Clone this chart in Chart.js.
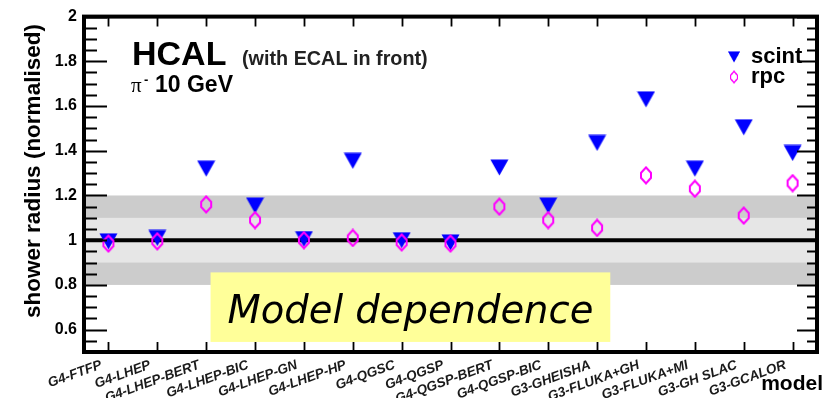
<!DOCTYPE html>
<html>
<head>
<meta charset="utf-8">
<script src="https://cdn.jsdelivr.net/npm/chart.js@4.4.0/dist/chart.umd.min.js"></script>
<style>
    html, body { margin: 0; padding: 0; background: #fff; }
</style>
</head>
<body>
<canvas id="radiusChart" width="827" height="398"></canvas>
<script>
// Hadronic shower models
var models = ['G4-FTFP', 'G4-LHEP', 'G4-LHEP-BERT', 'G4-LHEP-BIC', 'G4-LHEP-GN', 'G4-LHEP-HP',
    'G4-QGSC', 'G4-QGSP', 'G4-QGSP-BERT', 'G4-QGSP-BIC', 'G3-GHEISHA', 'G3-FLUKA+GH',
    'G3-FLUKA+MI', 'G3-GH SLAC', 'G3-GCALOR'];

// Shower radius, normalised
var scintRadius = [0.995, 1.01, 1.32, 1.155, 1.005, 1.355, 1.0, 0.99, 1.325, 1.155, 1.435, 1.63, 1.32, 1.505, 1.39];
var rpcRadius = [0.985, 0.995, 1.16, 1.09, 1.0, 1.01, 0.99, 0.985, 1.15, 1.09, 1.055, 1.29, 1.23, 1.11, 1.255];

// Axis
var yTicks = [0.6, 0.8, 1, 1.2, 1.4, 1.6, 1.8, 2];
var yMinorTicks = [0.55, 0.65, 0.7, 0.75, 0.85, 0.9, 0.95, 1.05, 1.1, 1.15, 1.25, 1.3, 1.35,
    1.45, 1.5, 1.55, 1.65, 1.7, 1.75, 1.85, 1.9, 1.95];

// Agreement bands around unity
var innerBand = [0.9, 1.1];
var outerBand = [0.8, 1.2];

var sansFont = '"Liberation Sans", Arial, sans-serif';

// Markers
function makeMarker(w, h, draw) {
    var c = document.createElement('canvas');
    c.width = w;
    c.height = h;
    draw(c.getContext('2d'), w, h);
    return c;
}
var triangleMarker = makeMarker(19, 17, function (g, w, h) {
    g.fillStyle = '#0000ff';
    g.beginPath();
    g.moveTo(0.5, 0.5);
    g.lineTo(w - 0.5, 0.5);
    g.lineTo(w / 2, h - 0.5);
    g.closePath();
    g.fill();
});
var diamondMarker = makeMarker(14, 19, function (g, w, h) {
    g.strokeStyle = '#ff00ff';
    g.lineWidth = 2;
    g.beginPath();
    g.moveTo(w / 2, 1.5);
    g.lineTo(w - 2, 7);
    g.lineTo(w - 2, h - 7);
    g.lineTo(w / 2, h - 1.5);
    g.lineTo(2, h - 7);
    g.lineTo(2, 7);
    g.closePath();
    g.stroke();
});

// Bands, unity line, caption box, frame and texts
var decorPlugin = {
    id: 'decor',
    beforeDatasetsDraw: function (chart) {
        var ctx = chart.ctx, area = chart.chartArea;
        var xs = chart.scales.x, ys = chart.scales.y;
        ctx.save();

        var top = ys.getPixelForValue(outerBand[1]), bottom = ys.getPixelForValue(outerBand[0]);
        ctx.fillStyle = '#cccccc';
        ctx.fillRect(area.left, top, area.width, bottom - top);
        top = ys.getPixelForValue(innerBand[1]);
        bottom = ys.getPixelForValue(innerBand[0]);
        ctx.fillStyle = '#e6e6e6';
        ctx.fillRect(area.left, top, area.width, bottom - top);

        var one = ys.getPixelForValue(1);
        ctx.strokeStyle = '#000';
        ctx.lineWidth = 4;
        ctx.beginPath();
        ctx.moveTo(area.left, one);
        ctx.lineTo(area.right, one);
        ctx.stroke();

        // caption box
        var bx0 = xs.getPixelForValue(2.09), bx1 = xs.getPixelForValue(10.27);
        var by0 = ys.getPixelForValue(0.856), by1 = ys.getPixelForValue(0.545);
        ctx.fillStyle = '#ffff99';
        ctx.fillRect(bx0, by0, bx1 - bx0, by1 - by0);

        var caption = 'Model dependence';
        ctx.font = 'italic 40px "DejaVu Sans", sans-serif';
        var size = 40 * 366 / ctx.measureText(caption).width;
        ctx.font = 'italic ' + size.toFixed(1) + 'px "DejaVu Sans", sans-serif';
        ctx.fillStyle = '#000';
        ctx.textAlign = 'center';
        ctx.textBaseline = 'alphabetic';
        ctx.fillText(caption, (bx0 + bx1) / 2, by0 + 51);
        ctx.restore();
    },
    afterDraw: function (chart) {
        var ctx = chart.ctx, area = chart.chartArea;
        var xs = chart.scales.x, ys = chart.scales.y;
        ctx.save();
        ctx.strokeStyle = '#000';

        // tick marks pointing inwards
        ctx.lineWidth = 1.8;
        ctx.beginPath();
        yTicks.forEach(function (v) {
            var p = Math.round(ys.getPixelForValue(v)) + 0.5;
            ctx.moveTo(area.left, p); ctx.lineTo(area.left + 23, p);
            ctx.moveTo(area.right, p); ctx.lineTo(area.right - 20, p);
        });
        yMinorTicks.forEach(function (v) {
            var p = Math.round(ys.getPixelForValue(v)) + 0.5;
            ctx.moveTo(area.left, p); ctx.lineTo(area.left + 13, p);
            ctx.moveTo(area.right, p); ctx.lineTo(area.right - 10, p);
        });
        models.forEach(function (m, i) {
            var p = Math.round(xs.getPixelForValue(i)) + 0.5;
            ctx.moveTo(p, area.top); ctx.lineTo(p, area.top + 10);
            ctx.moveTo(p, area.bottom); ctx.lineTo(p, area.bottom - 10);
        });
        ctx.stroke();

        // frame
        ctx.lineWidth = 4;
        ctx.strokeRect(area.left, area.top, area.right - area.left, area.bottom - area.top);

        // titles
        ctx.fillStyle = '#000';
        ctx.textBaseline = 'alphabetic';
        ctx.textAlign = 'left';
        ctx.font = 'bold 34px ' + sansFont;
        ctx.fillText('HCAL', 132, 65);
        ctx.fillStyle = '#222';
        ctx.font = 'bold 19.8px ' + sansFont;
        ctx.fillText('(with ECAL in front)', 242, 65);
        ctx.fillStyle = '#000';
        ctx.font = '21px "Liberation Serif", serif';
        ctx.fillText('\u03c0', 131, 92);
        ctx.font = 'bold 13px ' + sansFont;
        ctx.fillText('-', 144, 84);
        ctx.font = 'bold 23px ' + sansFont;
        ctx.fillText('10 GeV', 155, 92);

        // legend
        var items = chart.data.datasets;
        var legendY = [57, 77];
        ctx.font = 'bold 22px ' + sansFont;
        items.forEach(function (ds, i) {
            var img = ds.pointStyle;
            var w = img.width * 0.68, h = img.height * 0.7;
            ctx.drawImage(img, 734 - w / 2, legendY[i] - h / 2, w, h);
            ctx.fillText(ds.label, 751, legendY[i] + 6);
        });

        // axis titles
        ctx.font = 'bold 21px ' + sansFont;
        ctx.textAlign = 'right';
        ctx.fillText('model', 823, 390);

        ctx.translate(40, 171);
        ctx.rotate(-Math.PI / 2);
        ctx.textAlign = 'center';
        ctx.font = 'bold 22.5px ' + sansFont;
        ctx.fillText('shower radius (normalised)', 0, 0);
        ctx.restore();
    }
};

var canvas = document.getElementById('radiusChart');
var ctx = canvas.getContext('2d');

var radiusChart = new Chart(ctx, {
    type: 'line',
    data: {
        labels: models,
        datasets: [
            {
                label: 'scint',
                data: scintRadius,
                showLine: false,
                pointStyle: triangleMarker,
                pointRadius: 9,
                order: 1
            },
            {
                label: 'rpc',
                data: rpcRadius,
                showLine: false,
                pointStyle: diamondMarker,
                pointRadius: 9,
                order: 0
            }
        ]
    },
    options: {
        responsive: false,
        animation: false,
        events: [],
        layout: { padding: { top: 15, right: 2, left: 0, bottom: 0 } },
        plugins: {
            legend: { display: false },
            tooltip: { enabled: false }
        },
        scales: {
            x: {
                type: 'category',
                offset: true,
                grid: { display: false, drawTicks: false },
                border: { display: false },
                ticks: {
                    autoSkip: false,
                    minRotation: 20,
                    maxRotation: 20,
                    padding: 5,
                    labelOffset: -7,
                    color: '#1a1a1a',
                    font: { family: sansFont, size: 13.5, weight: 'bold', style: 'italic' }
                },
                afterFit: function (scale) { scale.height = 46; }
            },
            y: {
                min: 0.5,
                max: 2,
                grid: { display: false, drawTicks: false },
                border: { display: false },
                afterBuildTicks: function (scale) {
                    scale.ticks = yTicks.map(function (v) { return { value: v }; });
                },
                ticks: {
                    padding: 7,
                    color: '#000',
                    font: { family: sansFont, size: 16, weight: 'bold' },
                    callback: function (v) { return String(Math.round(v * 10) / 10); }
                },
                afterFit: function (scale) { scale.width = 84; }
            }
        }
    },
    plugins: [decorPlugin]
});
</script>
</body>
</html>
